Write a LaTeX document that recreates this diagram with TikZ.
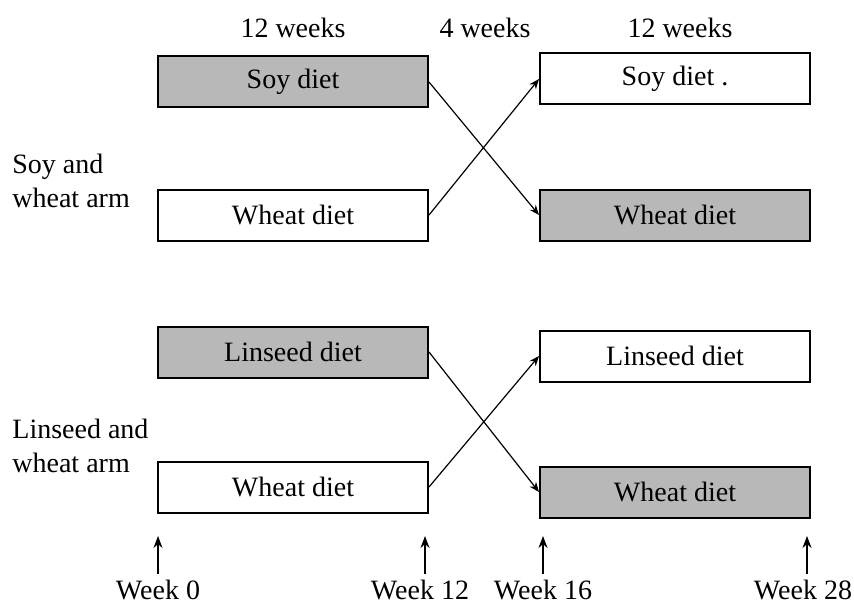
\documentclass[tikz,border=0pt]{standalone}
\usepackage{fontspec}
\setmainfont{Liberation Serif}
\usetikzlibrary{arrows.meta}
\begin{document}
\begin{tikzpicture}[x=0.5pt,y=-0.5pt,
  diet/.style={draw=black,line width=1pt,minimum width=135pt,minimum height=25.5pt,inner sep=0pt,font=\fontsize{14}{16}\selectfont},
  grey/.style={diet,fill=black!28},
  white/.style={diet,fill=white},
  lbl/.style={font=\fontsize{14}{17}\selectfont,inner sep=0pt},
  arm/.style={lbl,align=left,anchor=west},
  cross/.style={line width=0.6pt,-{Stealth[length=5pt,width=4pt]}},
  tick/.style={line width=0.7pt,-{Stealth[length=6pt,width=4.5pt]}}]
\useasboundingbox (0,0) rectangle (854,604);
% column headings
\node[lbl] (h1) at (293,28) {12 weeks};
\node[lbl] (h2) at (485,28) {4 weeks};
\node[lbl] (h3) at (680,28) {12 weeks};
% soy and wheat arm
\node[grey]  (a1) at (293,82) {Soy diet};
\node[white] (a2) at (293,215) {Wheat diet};
\node[white] (a3) at (675,79) {Soy diet .};
\node[grey]  (a4) at (675,215) {Wheat diet};
\node[arm] (arm1) at (12,181) {Soy and\\wheat arm};
% linseed and wheat arm
\node[grey]  (b1) at (293,352) {Linseed diet};
\node[white] (b2) at (293,487) {Wheat diet};
\node[white] (b3) at (675,356) {Linseed diet};
\node[grey]  (b4) at (675,492) {Wheat diet};
\node[arm] (arm2) at (12,446) {Linseed and\\wheat arm};
% crossover arrows
\draw[cross] (a1.east) -- (a4.west);
\draw[cross] (a2.east) -- (a3.west);
\draw[cross] (b1.east) -- (b4.west);
\draw[cross] (b2.east) -- (b3.west);
% time points
\node[lbl,anchor=north] (w0) at (158,580) {Week 0};
\node[lbl,anchor=north] (w12) at (420,580) {Week 12};
\node[lbl,anchor=north] (w16) at (543,580) {Week 16};
\node[lbl,anchor=north] (w28) at (803,580) {Week 28};
\coordinate (t0) at (158,536);
\coordinate (t12) at (425,536);
\coordinate (t16) at (543,536);
\coordinate (t28) at (807,536);
\draw[tick] (w0.north -| t0) ++(0,-6) -- (t0);
\draw[tick] (w12.north -| t12) ++(0,-6) -- (t12);
\draw[tick] (w16.north -| t16) ++(0,-6) -- (t16);
\draw[tick] (w28.north -| t28) ++(0,-6) -- (t28);
\end{tikzpicture}
\end{document}
